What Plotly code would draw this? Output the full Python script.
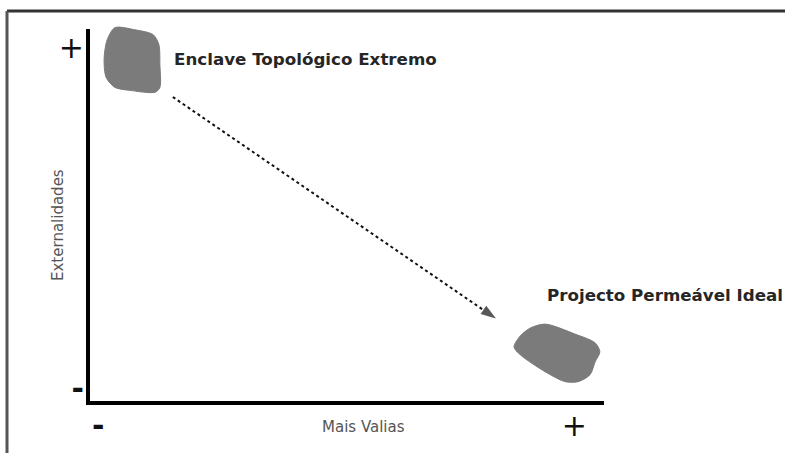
import plotly.graph_objects as go

# Conceptual axes: 0..10 on both "Mais Valias" (x) and "Externalidades" (y)
x_tick_vals = [0.16, 9.42]
x_tick_text = ["<b>-</b>", "+"]
y_tick_vals = [0.35, 9.5]
y_tick_text = ["<b>-</b>", "+"]

x_title = "Mais Valias"
y_title = "Externalidades"

# Blob outlines (conceptual units)
enclave_x = [0.54, 0.93, 1.28, 1.39, 1.41, 1.41, 1.32, 0.83, 0.54, 0.37, 0.33, 0.39, 0.54]
enclave_y = [10.03, 9.97, 9.84, 9.57, 9.03, 8.41, 8.28, 8.33, 8.41, 8.68, 9.17, 9.70, 10.03]

ideal_x = [8.57, 8.86, 9.44, 9.83, 9.92, 9.83, 9.73, 9.50, 9.25, 8.86, 8.38, 8.26, 8.38, 8.57]
ideal_y = [1.88, 1.99, 1.72, 1.48, 1.24, 0.97, 0.62, 0.43, 0.43, 0.70, 1.16, 1.37, 1.67, 1.88]

# Transition arrow
arrow_x = [1.66, 7.91]
arrow_y = [8.15, 2.14]

# Labels
label_text = ["Enclave Topológico Extremo", "Projecto Permeável Ideal"]
label_x = [1.64, 8.86]
label_y = [9.17, 2.77]

blob_color = "#7b7b7b"

fig = go.Figure()

# invisible trace to hold main axes
fig.add_trace(go.Scatter(x=[0, 10], y=[0, 10], mode="markers",
                         marker=dict(opacity=0), hoverinfo="skip",
                         showlegend=False, xaxis="x", yaxis="y"))

for bx, by in [(enclave_x, enclave_y), (ideal_x, ideal_y)]:
    fig.add_trace(go.Scatter(x=bx, y=by, mode="lines", fill="toself",
                             fillcolor=blob_color, line=dict(color=blob_color, width=1, shape="spline", smoothing=0.8),
                             showlegend=False, hoverinfo="skip", xaxis="x2", yaxis="y2"))

fig.add_trace(go.Scatter(x=arrow_x, y=arrow_y, mode="lines+markers",
                         line=dict(color="#111", width=2, dash="dot"),
                         marker=dict(symbol=["circle", "arrow"], size=[0, 16], angleref="previous",
                                     color="#111", line=dict(width=0)),
                         showlegend=False, hoverinfo="skip", xaxis="x2", yaxis="y2"))

annotations = []
for t, lx, ly in zip(label_text, label_x, label_y):
    annotations.append(dict(text="<b>" + t + "</b>", x=lx, y=ly, xref="x2", yref="y2",
                            xanchor="left", yanchor="middle", showarrow=False,
                            font=dict(family="DejaVu Sans", size=16.7, color="#262626")))
annotations.append(dict(text=x_title, x=5.34, y=-0.80, xref="x2", yref="y2", showarrow=False,
                        xanchor="center", yanchor="middle",
                        font=dict(family="DejaVu Sans", size=15, color="#555")))
annotations.append(dict(text=y_title, x=-0.56, y=4.68, xref="x2", yref="y2", showarrow=False,
                        textangle=-90, xanchor="center", yanchor="middle",
                        font=dict(family="DejaVu Sans", size=15, color="#555")))

fig.update_layout(
    width=785, height=457,
    margin=dict(l=0, r=0, t=0, b=0),
    paper_bgcolor="white", plot_bgcolor="rgba(0,0,0,0)",
    xaxis=dict(domain=[90 / 785, 604 / 785], range=[0, 10], showgrid=False, zeroline=False,
               showline=True, linecolor="black", linewidth=4,
               tickvals=x_tick_vals, ticktext=x_tick_text, ticks="", ticklabelstandoff=-5,
               tickfont=dict(family="DejaVu Sans", size=30, color="#111"), fixedrange=True),
    yaxis=dict(domain=[52 / 457, 428 / 457], range=[0, 10], showgrid=False, zeroline=False,
               showline=True, linecolor="black", linewidth=4,
               tickvals=y_tick_vals, ticktext=y_tick_text, ticks="", ticklabelstandoff=-4,
               tickfont=dict(family="DejaVu Sans", size=30, color="#111"), fixedrange=True),
    xaxis2=dict(domain=[0, 1], range=[-1.683, 13.501], visible=False, anchor="y2", fixedrange=True),
    yaxis2=dict(domain=[0, 1], range=[-1.505, 10.780], visible=False, anchor="x2", fixedrange=True),
    annotations=annotations,
    shapes=[
        dict(type="line", xref="paper", yref="paper", x0=7 / 785, x1=1, y0=1 - 11 / 457, y1=1 - 11 / 457,
             line=dict(color="#333", width=3)),
        dict(type="line", xref="paper", yref="paper", x0=7 / 785, x1=7 / 785, y0=0, y1=1 - 11 / 457,
             line=dict(color="#555", width=3)),
    ],
)

fig.write_html("out.html", config={"displayModeBar": False},
               post_script="document.body.style.margin='0px';")
